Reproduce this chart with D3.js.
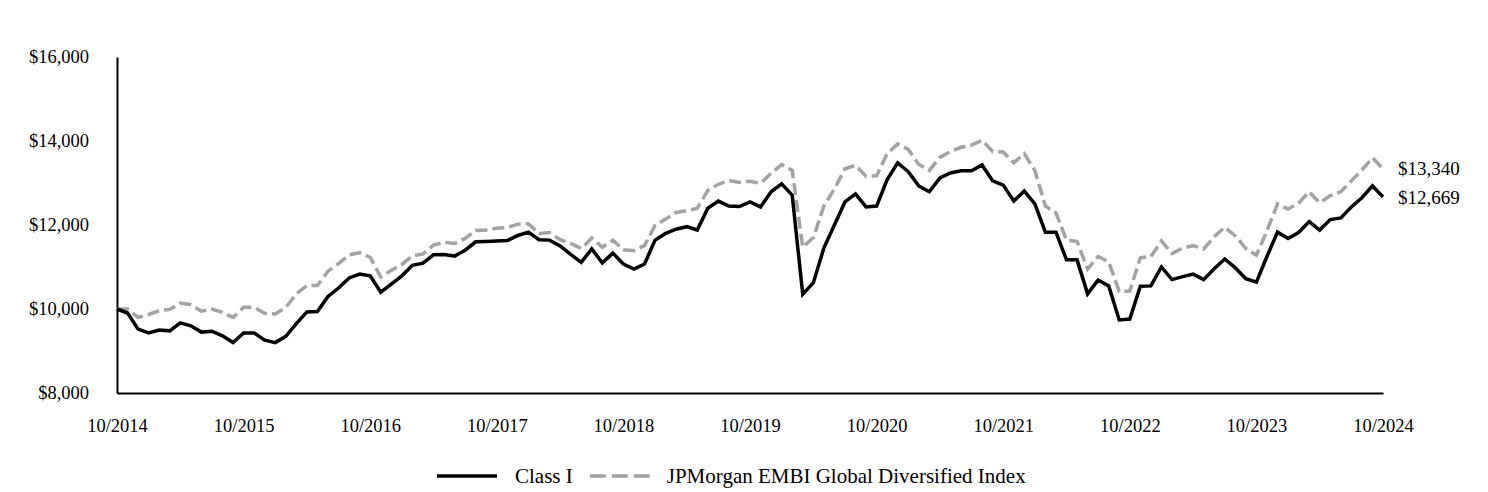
<!DOCTYPE html>
<html>
<head>
<meta charset="utf-8">
<script src="https://cdn.jsdelivr.net/npm/d3@7"></script>
<style>
  html, body { margin: 0; padding: 0; background: #ffffff; }
  svg { display: block; }
  text { font-family: "Liberation Serif", "Times New Roman", serif; fill: #000; }
</style>
</head>
<body>
<svg id="chart" width="1488" height="492"></svg>
<script>
// ---- data ----
const startMonth = "2014-10";
const xTickLabels = ["10/2014","10/2015","10/2016","10/2017","10/2018","10/2019","10/2020","10/2021","10/2022","10/2023","10/2024"];
const yTicks = [8000, 10000, 12000, 14000, 16000];
const seriesNames = ["Class I", "JPMorgan EMBI Global Diversified Index"];
const classI = [
  10000, 9905, 9520, 9430, 9500, 9480, 9670, 9600, 9450, 9470, 9360, 9200,
  9430, 9430, 9260, 9200, 9350, 9650, 9930, 9940, 10300, 10500, 10740, 10830,
  10790, 10400, 10590, 10790, 11040, 11090, 11290, 11300, 11260, 11400, 11600, 11610,
  11620, 11630, 11750, 11830, 11650, 11640, 11500, 11300, 11110, 11430, 11100, 11330,
  11070, 10950, 11070, 11640, 11800, 11900, 11960, 11880, 12400, 12570, 12450, 12440,
  12550, 12430, 12790, 12980, 12710, 10350, 10620, 11450, 12000, 12550, 12740, 12430,
  12450, 13080, 13480, 13270, 12930, 12790, 13120, 13240, 13290, 13290, 13430, 13050,
  12950, 12570, 12810, 12500, 11830, 11830, 11170, 11170, 10360, 10690, 10550, 9740,
  9760, 10540, 10550, 11000, 10700, 10770, 10830, 10700, 10960, 11190, 10980, 10720,
  10640, 11250, 11830, 11680, 11820, 12080, 11880, 12130, 12170, 12430, 12650, 12930,
  12669
];
const embi = [
  10000, 10000, 9800, 9870, 9960, 9990, 10140, 10100, 9950, 10000, 9920, 9800,
  10040, 10040, 9900, 9880, 10040, 10360, 10560, 10560, 10900, 11080, 11290, 11340,
  11230, 10760, 10920, 11060, 11260, 11310, 11520, 11590, 11560, 11680, 11870, 11880,
  11920, 11940, 12020, 12030, 11800, 11820, 11650, 11560, 11440, 11690, 11470, 11640,
  11410, 11390, 11510, 11990, 12140, 12300, 12340, 12400, 12820, 12970, 13060, 13010,
  13040, 12990, 13230, 13440, 13300, 11470, 11700, 12450, 12860, 13340, 13420, 13160,
  13170, 13700, 13930, 13800, 13440, 13300, 13610, 13750, 13850, 13900, 14020, 13750,
  13740, 13480, 13700, 13300, 12450, 12290, 11640, 11610, 10950, 11250, 11120, 10420,
  10430, 11220, 11250, 11620, 11320, 11450, 11510, 11430, 11720, 11950, 11740, 11440,
  11280, 11860, 12500, 12380, 12520, 12790, 12530, 12700, 12790, 13050, 13310, 13600,
  13340
];
const endLabels = ["$12,669", "$13,340"];

// ---- layout ----
const svg = d3.select("#chart");
const margin = { left: 117, right: 1383, top: 57, bottom: 393 };
const FONT = '"Liberation Serif", "Times New Roman", serif';
const GREY = "#a3a3a3";

const x = d3.scaleLinear().domain([0, classI.length - 1]).range([margin.left, margin.right]);
const y = d3.scaleLinear().domain([8000, 16000]).range([margin.bottom, margin.top]);

const fmt = v => "$" + d3.format(",")(v);

// y axis
const yAxis = d3.axisLeft(y).tickValues(yTicks).tickFormat(fmt).tickSize(0).tickPadding(28);
const gy = svg.append("g").attr("transform", `translate(${margin.left},0)`).call(yAxis);
gy.select(".domain").attr("stroke", "#000").attr("stroke-width", 2);
gy.selectAll("text").attr("font-family", FONT).attr("font-size", 18.5).attr("fill", "#000");

// x axis
const xAxis = d3.axisBottom(x)
  .tickValues(xTickLabels.map((d, i) => i * 12))
  .tickFormat((d, i) => xTickLabels[i])
  .tickSize(0).tickPadding(26);
const gx = svg.append("g").attr("transform", `translate(0,${margin.bottom})`).call(xAxis);
gx.select(".domain").attr("stroke", "#000").attr("stroke-width", 2);
gx.selectAll("text").attr("font-family", FONT).attr("font-size", 18.5).attr("fill", "#000");

// lines
const line = d3.line().x((d, i) => x(i)).y(d => y(d)).curve(d3.curveLinear);

svg.append("path").datum(embi)
  .attr("fill", "none").attr("stroke", GREY).attr("stroke-width", 3.5)
  .attr("stroke-dasharray", "12,5").attr("stroke-linejoin", "miter")
  .attr("d", line);

svg.append("path").datum(classI)
  .attr("fill", "none").attr("stroke", "#000").attr("stroke-width", 3.5)
  .attr("stroke-linejoin", "miter")
  .attr("d", line);

// end labels
const lastI = classI.length - 1;
svg.append("text").attr("x", x(lastI) + 15).attr("y", y(embi[lastI]))
  .attr("dy", "0.35em").attr("font-family", FONT).attr("font-size", 19).text(endLabels[1]);
svg.append("text").attr("x", x(lastI) + 15).attr("y", y(classI[lastI]))
  .attr("dy", "0.35em").attr("font-family", FONT).attr("font-size", 19).text(endLabels[0]);

// legend
const legY = 476;
const leg = svg.append("g");
leg.append("line").attr("x1", 437).attr("x2", 497).attr("y1", legY).attr("y2", legY)
  .attr("stroke", "#000").attr("stroke-width", 3.5);
const t1 = leg.append("text").attr("x", 515).attr("y", legY).attr("dy", "0.35em")
  .attr("font-family", FONT).attr("font-size", 21).text(seriesNames[0]);
const g0 = 515 + t1.node().getComputedTextLength() + 17;
leg.append("line").attr("x1", g0).attr("x2", g0 + 60).attr("y1", legY).attr("y2", legY)
  .attr("stroke", GREY).attr("stroke-width", 3.5).attr("stroke-dasharray", "16,6");
leg.append("text").attr("x", g0 + 77).attr("y", legY).attr("dy", "0.35em")
  .attr("font-family", FONT).attr("font-size", 21).text(seriesNames[1]);
</script>
</body>
</html>
